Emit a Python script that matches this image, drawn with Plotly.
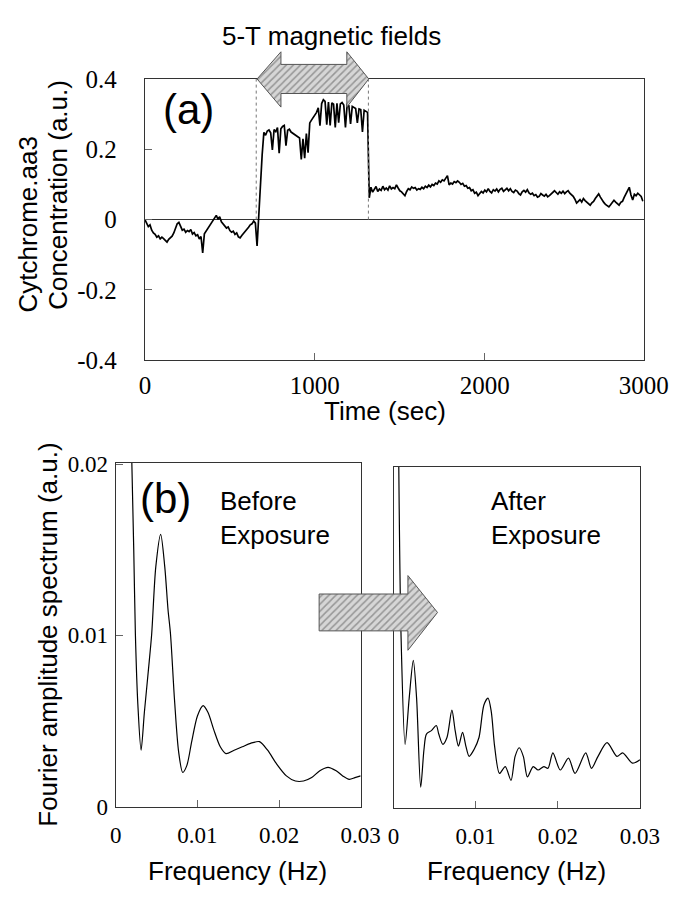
import plotly.graph_objects as go

W, H = 684, 899

# ---------------- data: panel (a) ----------------
TIME_STEP_S = 10
CONC_BEFORE = [
    0.000, -0.008, -0.020, -0.015, -0.030, -0.038, -0.042, -0.050, -0.046, -0.055,
    -0.050, -0.054, -0.058, -0.064, -0.056, -0.052, -0.047, -0.038, -0.025, -0.012,
    -0.008, -0.018, -0.030, -0.027, -0.036, -0.031, -0.034, -0.028, -0.041, -0.037,
    -0.046, -0.043, -0.055, -0.048, -0.095, -0.040, -0.033, -0.025, -0.019, -0.010,
    -0.004, 0.004, 0.012, 0.001, 0.008, -0.006, -0.012, -0.018, -0.024, -0.021,
    -0.031, -0.036, -0.033, -0.042, -0.038, -0.049, -0.052, -0.045, -0.040, -0.032,
    -0.027, -0.022, -0.015, -0.012, -0.004, -0.010, -0.075]
CONC_DURING = [
    0.020, 0.110, 0.185, 0.248,
    0.240, 0.252, 0.255, 0.247, 0.198, 0.256, 0.250, 0.262, 0.189, 0.258,
    0.265, 0.268, 0.210, 0.254, 0.257, 0.249, 0.246, 0.241, 0.238, 0.236,
    0.232, 0.171, 0.230, 0.175, 0.245, 0.190, 0.275, 0.283, 0.290, 0.298,
    0.305, 0.318, 0.267, 0.330, 0.341, 0.336, 0.270, 0.334, 0.268, 0.332,
    0.328, 0.262, 0.331, 0.276, 0.329, 0.333, 0.326, 0.262, 0.327, 0.324,
    0.272, 0.322, 0.318, 0.316, 0.275, 0.315, 0.313, 0.249, 0.311, 0.308,
    0.305]
CONC_AFTER = [
    0.062, 0.092, 0.078, 0.086, 0.094, 0.080, 0.087, 0.083, 0.095, 0.085,
    0.090, 0.084, 0.096, 0.087, 0.091, 0.088, 0.099, 0.090, 0.082, 0.079,
    0.074, 0.068, 0.080, 0.088, 0.085, 0.093, 0.089, 0.091, 0.084, 0.088,
    0.086, 0.092, 0.088, 0.095, 0.091, 0.098, 0.093, 0.100, 0.097, 0.104,
    0.101, 0.110, 0.106, 0.113, 0.110, 0.118, 0.125, 0.099, 0.104, 0.101,
    0.108, 0.105, 0.110, 0.106, 0.100, 0.103, 0.095, 0.097, 0.089, 0.091,
    0.082, 0.085, 0.075, 0.078, 0.068, 0.074, 0.080, 0.076, 0.084, 0.079,
    0.088, 0.080, 0.076, 0.085, 0.081, 0.087, 0.079, 0.086, 0.089, 0.080,
    0.086, 0.089, 0.082, 0.088, 0.080, 0.077, 0.084, 0.081, 0.074, 0.070,
    0.079, 0.083, 0.078, 0.085, 0.076, 0.072, 0.075, 0.068, 0.071, 0.064,
    0.066, 0.074, 0.070, 0.067, 0.072, 0.065, 0.068, 0.073, 0.076, 0.082,
    0.077, 0.072, 0.079, 0.075, 0.081, 0.074, 0.079, 0.082, 0.075, 0.071,
    0.066, 0.058, 0.047, 0.052, 0.057, 0.050, 0.060, 0.054, 0.049, 0.045,
    0.041, 0.048, 0.052, 0.060, 0.066, 0.073, 0.064, 0.055, 0.049, 0.043,
    0.040, 0.036, 0.042, 0.048, 0.055, 0.050, 0.045, 0.041, 0.049, 0.052,
    0.063, 0.074, 0.085, 0.092, 0.070, 0.056, 0.072, 0.068, 0.075, 0.070,
    0.066, 0.052]
CONC = CONC_BEFORE + CONC_DURING + CONC_AFTER
TIME = [i * TIME_STEP_S for i in range(len(CONC))]

FIELD_ON_S = 655
FIELD_OFF_S = 1315
TIME_AXIS_END = 2935
TIME_TICKS = [0, 1000, 2000, TIME_AXIS_END]
TIME_TICK_TEXT = ["0", "1000", "2000", "3000"]
CONC_TICKS = [-0.4, -0.2, 0, 0.2, 0.4]
CONC_TICK_TEXT = ["-0.4", "-0.2", "0", "0.2", "0.4"]

# ---------------- data: panel (b) ----------------
FREQ_BEFORE = [0.0019, 0.0022, 0.0024, 0.0027, 0.0031, 0.0035, 0.0040, 0.0044, 0.0049,
               0.0055, 0.0060, 0.0064, 0.0067, 0.0072, 0.0077, 0.0082, 0.0087, 0.0093,
               0.0100, 0.0107, 0.0113, 0.0120, 0.0128, 0.0135, 0.0145, 0.0155, 0.0165,
               0.0176, 0.0186, 0.0197, 0.0209, 0.0220, 0.0230, 0.0240, 0.0250, 0.0260,
               0.0270, 0.0278, 0.0286, 0.0293, 0.0300]
AMP_BEFORE = [0.0215, 0.0150, 0.0101, 0.0060, 0.0033, 0.0055, 0.0080, 0.0101, 0.0140,
              0.0159, 0.0140, 0.0115, 0.0101, 0.0062, 0.0032, 0.0020, 0.0024, 0.0038,
              0.0053, 0.0059, 0.0055, 0.0045, 0.0035, 0.0031, 0.0033, 0.0035, 0.0037,
              0.0038, 0.0033, 0.0025, 0.0018, 0.0015, 0.0015, 0.0017, 0.0021, 0.0023,
              0.0021, 0.0018, 0.0016, 0.0017, 0.0018]
FREQ_AFTER = [0.0006, 0.0009, 0.0014, 0.0019, 0.0024, 0.0028, 0.0033, 0.0037, 0.0040,
              0.0046, 0.0052, 0.0055, 0.0060, 0.0065, 0.0071, 0.0075, 0.0079, 0.0084,
              0.0088, 0.0092, 0.0098, 0.0104, 0.0110, 0.0115, 0.0119, 0.0123, 0.0129,
              0.0136, 0.0143, 0.0148, 0.0153, 0.0158, 0.0163, 0.0170, 0.0176, 0.0183,
              0.0188, 0.0194, 0.0203, 0.0213, 0.0221, 0.0234, 0.0241, 0.0249, 0.0260,
              0.0272, 0.0279, 0.0291, 0.0300]
AMP_AFTER = [0.0215, 0.0102, 0.0037, 0.0064, 0.0086, 0.0064, 0.0012, 0.0034, 0.0043,
             0.0045, 0.0048, 0.0043, 0.0037, 0.0041, 0.0057, 0.0045, 0.0036, 0.0044,
             0.0036, 0.0030, 0.0034, 0.0041, 0.0060, 0.0064, 0.0056, 0.0036, 0.0020,
             0.0024, 0.0016, 0.0030, 0.0035, 0.0030, 0.0018, 0.0024, 0.0022, 0.0024,
             0.0023, 0.0032, 0.0022, 0.0029, 0.0020, 0.0032, 0.0023, 0.0030, 0.0038,
             0.0030, 0.0032, 0.0026, 0.0028]
FREQ_TICKS = [0, 0.01, 0.02, 0.03]
FREQ_TICK_TEXT = ["0", "0.01", "0.02", "0.03"]
AMP_TICKS = [0, 0.01, 0.02]
AMP_TICK_TEXT = ["0", "0.01", "0.02"]

# ---------------- decoration geometry (pixels) ----------------
ARROW_TOP_X = [263, 288, 288, 357, 357, 380, 357, 357, 288, 288, 263]
ARROW_TOP_Y = [68, 40, 53, 53, 40, 68, 97, 83, 83, 97, 68]
ARROW_MID_X = [328, 421, 421, 452, 421, 421, 328, 328]
ARROW_MID_Y = [599, 599, 580, 618, 657, 637, 637, 599]

SANS = "Liberation Sans"
SERIF = "Liberation Serif"
AX = "#333333"


def fx(px):
    return px / W


def fy(py):
    return 1 - py / H


fig = go.Figure()

fig.add_trace(go.Scatter(x=TIME, y=CONC, mode="lines", line=dict(color="black", width=1.7),
                         xaxis="x", yaxis="y", hoverinfo="skip"))
fig.add_trace(go.Scatter(x=FREQ_BEFORE, y=AMP_BEFORE, mode="lines",
                         line=dict(color="black", width=1.2, shape="spline", smoothing=0.8),
                         xaxis="x2", yaxis="y2", hoverinfo="skip"))
fig.add_trace(go.Scatter(x=FREQ_AFTER, y=AMP_AFTER, mode="lines",
                         line=dict(color="black", width=1.2, shape="spline", smoothing=0.8),
                         xaxis="x3", yaxis="y3", hoverinfo="skip"))

pattern = dict(shape="/", fgcolor="#555555", bgcolor="#d6d6d6", size=5, solidity=0.3)
for ax_, ay_ in [(ARROW_TOP_X, ARROW_TOP_Y), (ARROW_MID_X, ARROW_MID_Y)]:
    fig.add_trace(go.Scatter(x=ax_, y=ay_, mode="lines", fill="toself",
                             fillcolor="#d6d6d6", fillpattern=pattern,
                             line=dict(color="#555555", width=1),
                             xaxis="x4", yaxis="y4", hoverinfo="skip"))

common = dict(showline=True, linecolor=AX, linewidth=1.2, mirror=True, showgrid=False,
              ticks="inside", ticklen=7, tickcolor="#666666", tickwidth=1)

fig.update_layout(
    width=W, height=H, margin=dict(l=0, r=0, t=0, b=0),
    paper_bgcolor="white", plot_bgcolor="rgba(0,0,0,0)", showlegend=False,
    xaxis=dict(domain=[fx(145.5), fx(668)], range=[0, TIME_AXIS_END], anchor="y",
               tickvals=TIME_TICKS, ticktext=TIME_TICK_TEXT, zeroline=False,
               tickfont=dict(family=SERIF, size=25, color="black"), ticklabelstandoff=3,
               **common),
    yaxis=dict(domain=[fy(358), fy(68)], range=[-0.4, 0.4], anchor="x",
               tickvals=CONC_TICKS, ticktext=CONC_TICK_TEXT,
               zeroline=True, zerolinecolor=AX, zerolinewidth=1.2,
               tickfont=dict(family=SERIF, size=25, color="black"), ticklabelstandoff=22,
               **common),
    xaxis2=dict(domain=[fx(115), fx(371.5)], range=[0, 0.03], anchor="y2",
                tickvals=FREQ_TICKS, ticktext=FREQ_TICK_TEXT, zeroline=False,
                tickfont=dict(family=SERIF, size=23, color="black"), ticklabelstandoff=8,
                **common),
    yaxis2=dict(domain=[fy(818.3), fy(464)], range=[0, 0.02006], anchor="x2",
                tickvals=AMP_TICKS, ticktext=AMP_TICK_TEXT, zeroline=False,
                tickfont=dict(family=SERIF, size=23, color="black"), ticklabelstandoff=2,
                **common),
    xaxis3=dict(domain=[fx(406), fx(664)], range=[0, 0.03], anchor="y3",
                tickvals=FREQ_TICKS, ticktext=FREQ_TICK_TEXT, zeroline=False,
                tickfont=dict(family=SERIF, size=23, color="black"), ticklabelstandoff=8,
                **common),
    yaxis3=dict(domain=[fy(819.3), fy(468)], range=[0, 0.0199], anchor="x3",
                showline=True, linecolor=AX, linewidth=1.2, mirror=True, showgrid=False,
                zeroline=False, ticks="", showticklabels=False),
    xaxis4=dict(domain=[0, 1], range=[0, W], anchor="y4", visible=False, fixedrange=True),
    yaxis4=dict(domain=[0, 1], range=[H, 0], anchor="x4", visible=False, fixedrange=True),
)

for t in (FIELD_ON_S, FIELD_OFF_S):
    fig.add_shape(type="line", xref="x", yref="y", x0=t, x1=t, y0=0, y1=0.4,
                  line=dict(color="#777777", width=1, dash="dot"))


def label(text, x, y, size=26, angle=0, family=SANS, xanchor="center", align="center"):
    fig.add_annotation(text=text, x=fx(x), y=fy(y), xref="paper", yref="paper",
                       showarrow=False, textangle=angle, xanchor=xanchor, yanchor="middle",
                       align=align, font=dict(family=family, size=size, color="black"))


label("5-T magnetic fields", 341, 24)
label("(a)", 191, 99, size=42)
label("Cytchrome.aa3", 23, 218, angle=-90)
label("Concentration (a.u.)", 55, 188, angle=-90)
label("Time (sec)", 397, 410)
label("(b)", 167, 501, size=42)
label("Before<br>Exposure", 222, 521, xanchor="left", align="left")
label("After<br>Exposure", 506, 521, xanchor="left", align="left")
label("Fourier amplitude spectrum (a.u.)", 44, 641, angle=-90)
label("Frequency (Hz)", 243, 885)
label("Frequency (Hz)", 535, 885)

fig.write_html("out.html")
